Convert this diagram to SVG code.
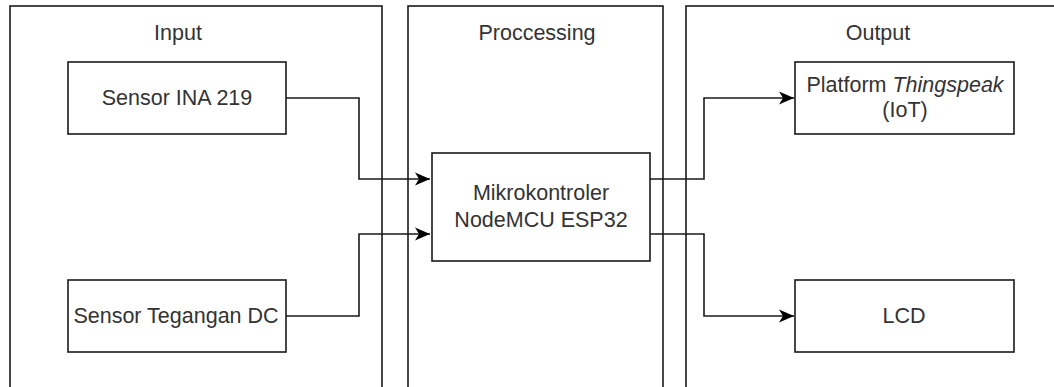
<svg xmlns="http://www.w3.org/2000/svg" width="1054" height="387" viewBox="0 0 1054 387">
  <style>
    .box { fill: #ffffff; stroke: #1a1a1a; stroke-width: 1.6; }
    .col { fill: #ffffff; stroke: #1a1a1a; stroke-width: 1.6; }
    .lbl { font-family: "Liberation Sans", Arial, sans-serif; font-size: 21.5px; fill: #333333; text-anchor: middle; }
    .edge { fill: none; stroke: #1a1a1a; stroke-width: 1.6; }
  </style>
  <defs>
    <marker id="arrow" markerUnits="userSpaceOnUse" markerWidth="18" markerHeight="16" viewBox="-16 -8 18 16" refX="0" refY="0" orient="auto">
      <path d="M -15 -6.5 L 0 0 L -15 6.5 L -11 0 Z" fill="#000000" stroke="none"/>
    </marker>
  </defs>
  <rect width="1054" height="387" fill="#ffffff"/>

  <g id="col-input">
    <rect class="col" x="10" y="6" width="372" height="400"/>
    <text class="lbl" x="178" y="40">Input</text>
  </g>
  <g id="col-processing">
    <rect class="col" x="408" y="6" width="255" height="400"/>
    <text class="lbl" x="537" y="40">Proccessing</text>
  </g>
  <g id="col-output">
    <rect class="col" x="686" y="6" width="400" height="400"/>
    <text class="lbl" x="878" y="40">Output</text>
  </g>

  <g id="sensor-ina219">
    <rect class="box" x="68" y="62" width="218" height="72"/>
    <text class="lbl" x="177" y="105">Sensor INA 219</text>
  </g>
  <g id="sensor-tegangan">
    <rect class="box" x="68" y="280" width="218" height="72"/>
    <text class="lbl" x="176" y="323">Sensor Tegangan DC</text>
  </g>
  <g id="mikrokontroler">
    <rect class="box" x="432" y="153" width="218" height="108"/>
    <text class="lbl" x="541" y="200">Mikrokontroler</text>
    <text class="lbl" x="541" y="227">NodeMCU ESP32</text>
  </g>
  <g id="thingspeak">
    <rect class="box" x="795" y="62" width="219" height="72"/>
    <text class="lbl" x="905" y="92">Platform <tspan font-style="italic">Thingspeak</tspan></text>
    <text class="lbl" x="905" y="117">(IoT)</text>
  </g>
  <g id="lcd">
    <rect class="box" x="795" y="280" width="219" height="72"/>
    <text class="lbl" x="904" y="323">LCD</text>
  </g>

  <g id="connectors">
    <path class="edge" d="M 286 98 H 359 V 179 H 430" marker-end="url(#arrow)"/>
    <path class="edge" d="M 286 316 H 359 V 234 H 430" marker-end="url(#arrow)"/>
    <path class="edge" d="M 650 179 H 704 V 98 H 794" marker-end="url(#arrow)"/>
    <path class="edge" d="M 650 234 H 704 V 316 H 794" marker-end="url(#arrow)"/>
  </g>
</svg>
